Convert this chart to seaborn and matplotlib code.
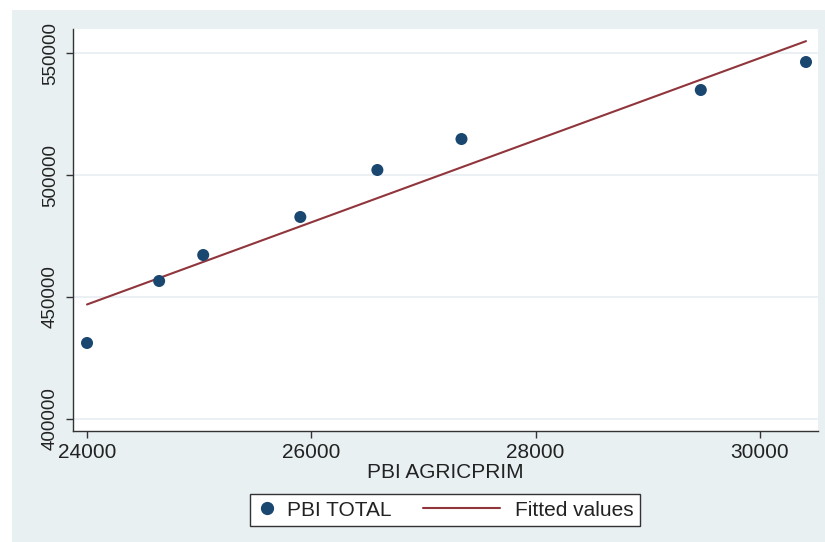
import numpy as np
import pandas as pd
import matplotlib
matplotlib.use("Agg")
import matplotlib.pyplot as plt
import seaborn as sns
from matplotlib.patches import Rectangle
from matplotlib.lines import Line2D
from matplotlib.legend_handler import HandlerLine2D

# Data
pbi_agricprim = [24000, 24643, 25036, 25902, 26589, 27339, 29473, 30411]
pbi_total = [431150, 456560, 467210, 482790, 502050, 514750, 534840, 546310]
x_ticks = [24000, 26000, 28000, 30000]
y_ticks = [400000, 450000, 500000, 550000]

df = pd.DataFrame({"PBI AGRICPRIM": pbi_agricprim, "PBI TOTAL": pbi_total})

sns.set_style("white")
plt.rcParams['font.family'] = ['Liberation Sans', 'DejaVu Sans']

W, H = 825, 542
fig = plt.figure(figsize=(W / 100, H / 100), dpi=100, facecolor="white")
panel_col = "#E8F0F2"
fig.patches.append(Rectangle((12 / W, 0), (W - 12) / W, (H - 10) / H,
                             transform=fig.transFigure, facecolor=panel_col,
                             edgecolor="none", zorder=-5))

left, right, top, bottom = 73, 818, 29, 431
ax = fig.add_axes([left / W, 1 - bottom / H, (right - left) / W, (bottom - top) / H])
ax.set_zorder(1)
ax.set_facecolor("white")

marker_col = "#1A476F"
line_col = "#90353B"
text_col = "#222222"

sns.regplot(data=df, x="PBI AGRICPRIM", y="PBI TOTAL", ax=ax, ci=None, truncate=True,
            scatter_kws=dict(s=75, color=marker_col, edgecolor="none", alpha=1, zorder=3),
            line_kws=dict(color=line_col, lw=1.5, zorder=2))

ax.set_xlim(23875, 30518)
ax.set_ylim(395080, 559840)
ax.set_xticks(x_ticks)
ax.set_yticks(y_ticks)
ax.set_xticklabels([str(v) for v in x_ticks], fontsize=15, color=text_col)
ax.set_yticklabels([str(v) for v in y_ticks], fontsize=13.5, color=text_col,
                   rotation=90, va="center")
ax.yaxis.grid(True, color="#E6EEF1", lw=1.2)
ax.xaxis.grid(False)
ax.set_axisbelow(True)
for s in ["top", "right"]:
    ax.spines[s].set_visible(False)
for s in ["left", "bottom"]:
    ax.spines[s].set_color("#333333")
    ax.spines[s].set_linewidth(1.0)
ax.tick_params(axis="both", direction="out", length=5, width=1, color="#333333",
               left=True, bottom=True)
ax.tick_params(axis="x", pad=4)
ax.tick_params(axis="y", pad=5)
ax.set_xlabel("PBI AGRICPRIM", fontsize=15, color=text_col, labelpad=0)
ax.set_ylabel("")


class LongLine(HandlerLine2D):
    def get_xdata(self, legend, xdescent, ydescent, width, height, fontsize):
        x = np.array([-xdescent - 44.5, -xdescent + width - 4.0])
        return x, x


h_pt = Line2D([], [], marker="o", ls="none", color=marker_col, markersize=8.5)
h_ln = Line2D([], [], color=line_col, lw=1.5)
leg = fig.legend([h_pt, h_ln], ["PBI TOTAL", "Fitted values"], ncol=2,
                 loc="center", bbox_to_anchor=(445 / W, 1 - 510 / H),
                 frameon=True, fancybox=False, fontsize=15, handlelength=1.0,
                 columnspacing=4.5, borderpad=0.3, handletextpad=0.45,
                 framealpha=1, handler_map={h_ln: LongLine()})
for t in leg.get_texts():
    t.set_color(text_col)
leg.get_frame().set_edgecolor("#333333")
leg.get_frame().set_linewidth(1.0)
leg.get_frame().set_facecolor("white")

fig.savefig("out.png", dpi=100, facecolor="white")
